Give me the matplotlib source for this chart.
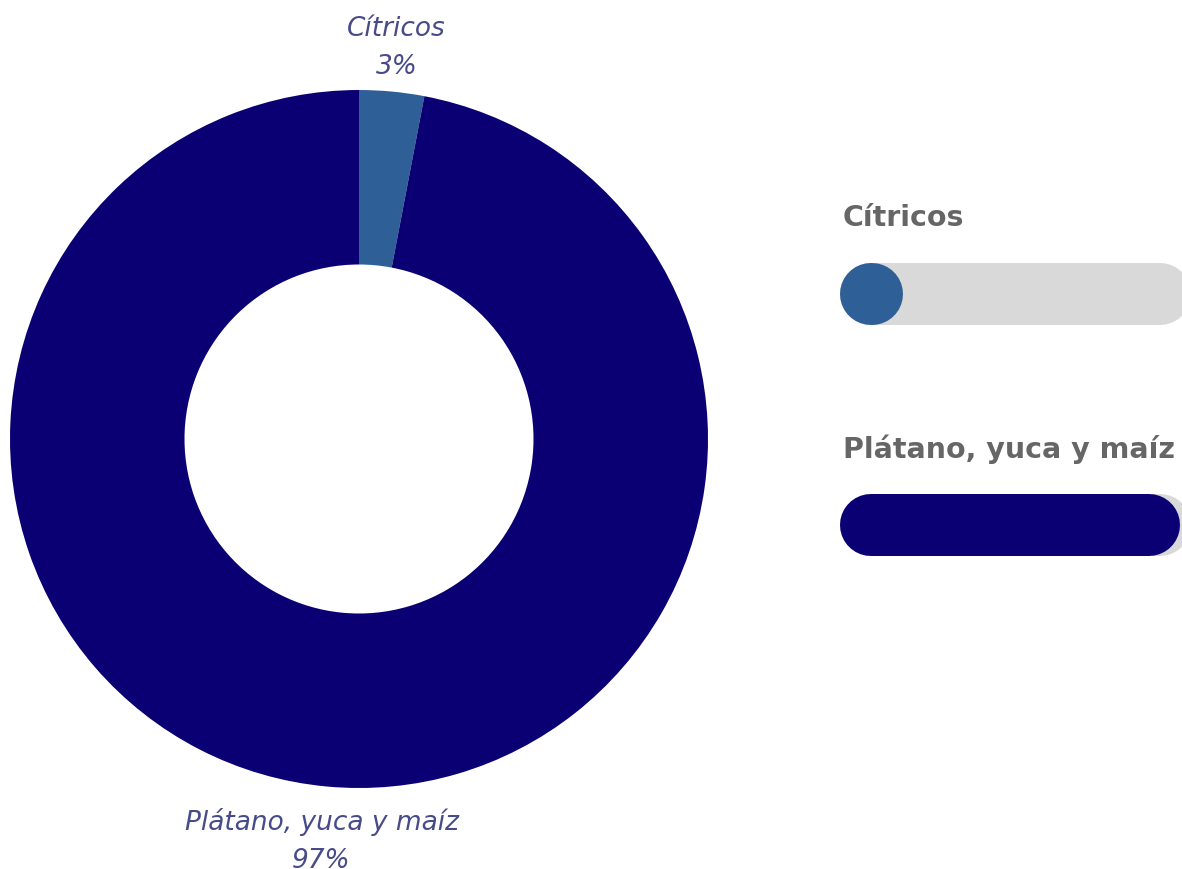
import numpy as np
import matplotlib
matplotlib.use("Agg")
import matplotlib.pyplot as plt

# datos
categorias = ["Cítricos", "Plátano, yuca y maíz"]
valores = [3, 97]
colores = ["#2e6097", "#0b0073"]

plt.rcParams["font.family"] = ["DejaVu Sans"]

W, H = 1182, 870
fig = plt.figure(figsize=(W / 100, H / 100), dpi=100)

# dona a la izquierda (centro 359,440 radio 349 px)
cx, cy, r = 359, 440, 349
ax = fig.add_axes([(cx - r) / W, (H - cy - r) / H, 2 * r / W, 2 * r / H])
wedges, _ = ax.pie(valores, colors=colores, startangle=90, counterclock=False,
                   radius=1, wedgeprops=dict(width=0.5, linewidth=0))
ax.set_xlim(-1, 1)
ax.set_ylim(-1, 1)
ax.set_aspect("equal")
ax.axis("off")

total = sum(valores)
for w, cat, v in zip(wedges, categorias, valores):
    ang = np.deg2rad((w.theta1 + w.theta2) / 2)
    d = 1.14
    ax.text(d * np.cos(ang), d * np.sin(ang) - 0.013, f"{cat}\n{v / total * 100:.0f}%",
            ha="center", va="center", fontsize=19, style="italic",
            color="#474b88", linespacing=1.6, clip_on=False)

# barras de progreso a la derecha
x0, ancho = 840, 351
y_top, y_bot = 180, 600
fila0, paso = 295, 231
ax2 = fig.add_axes([x0 / W, (H - y_bot) / H, ancho / W, (y_bot - y_top) / H])
ax2.set_xlim(0, 1)
ax2.set_ylim((y_bot - fila0) / paso, (y_top - fila0) / paso)
ax2.axis("off")

alto = 62  # px
lw = alto * 0.72
rad = (alto / 2) / ancho
for i, (cat, v, c) in enumerate(zip(categorias, valores, colores)):
    ax2.plot([rad, 1 - rad], [i, i], color="#d9d9d9", lw=lw,
             solid_capstyle="round", clip_on=False)
    fin = max(rad + 0.002, v / 100 - rad)
    ax2.plot([rad, fin], [i, i], color=c, lw=lw,
             solid_capstyle="round", clip_on=False)
    ax2.text(0.008, i - 77 / paso, cat, ha="left", va="center",
             fontsize=20.5, fontweight="bold", color="#666666", clip_on=False)

fig.savefig("out.png", dpi=100)
